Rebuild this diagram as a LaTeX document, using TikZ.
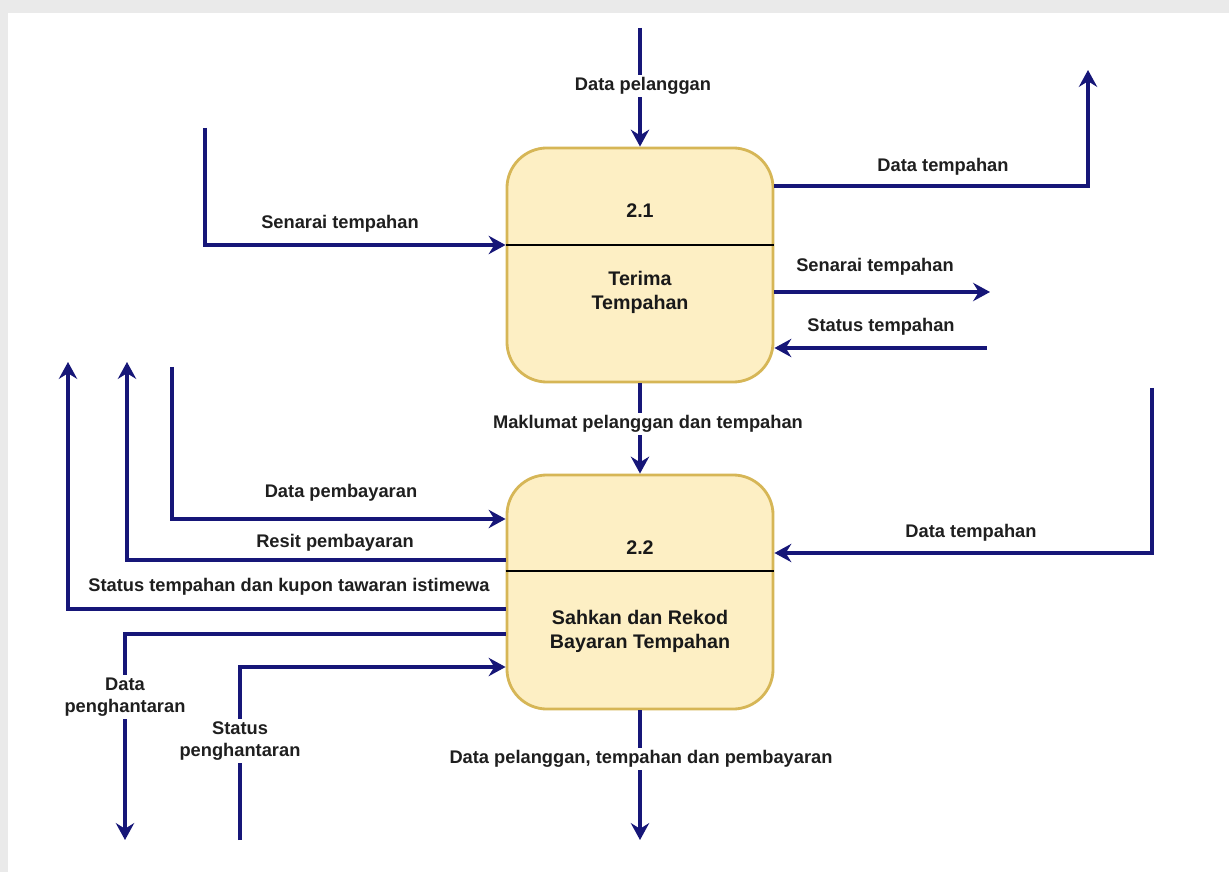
\documentclass[tikz,border=0pt]{standalone}
\usepackage{fontspec}
\setmainfont{Liberation Sans}
\usepackage{tikz}
\usetikzlibrary{arrows.meta}

\definecolor{flowblue}{RGB}{22,22,120}
\definecolor{procfill}{RGB}{253,239,196}
\definecolor{procline}{RGB}{214,182,86}
\definecolor{paper}{RGB}{234,234,234}

\begin{document}
\begin{tikzpicture}
            [x=0.025cm,y=-0.025cm,
             proc/.style={draw=procline,line width=2pt,fill=procfill,rounded corners=1cm,
                          minimum width=6.65cm,minimum height=5.85cm},
             flow/.style={draw=flowblue,line width=2.6pt,-{Stealth[length=12pt,width=13pt,inset=4pt]}},
             lbl/.style={font=\bfseries\fontsize{13}{15.5}\selectfont,text=black!88,align=center,inner sep=2pt},
             onlbl/.style={lbl,fill=white},
             ptitle/.style={font=\bfseries\fontsize{14}{17}\selectfont,text=black!90,align=center}]
            % page
            \fill[paper] (0,0) rectangle (1229,872);
            \fill[white] (8,13) rectangle (1229,872);
            \useasboundingbox (0,0) rectangle (1229,872);

            % processes
            \node[proc] (p21) at (640,265) {};
            \node[proc] (p22) at (640,592) {};
            \draw[line width=2pt] (p21.west |- 0,245) -- (p21.east |- 0,245);
            \draw[line width=2pt] (p22.west |- 0,571) -- (p22.east |- 0,571);
            \node[ptitle] (n21) at (640,211) {2.1};
            \node[ptitle] (t21) at (640,292) {Terima\\Tempahan};
            \node[ptitle] (n22) at (640,548) {2.2};
            \node[ptitle] (t22) at (640,631) {Sahkan dan Rekod\\Bayaran Tempahan};

            % free ends
            \coordinate (pelin) at (640,28);
            \coordinate (senin) at (205,128);
            \coordinate (tmpout) at (1088,70);
            \coordinate (senout) at (990,292);
            \coordinate (stsin) at (987,348);
            \coordinate (bayin) at (172,367);
            \coordinate (resout) at (127,362);
            \coordinate (kupout) at (68,362);
            \coordinate (hntout) at (125,840);
            \coordinate (shin) at (240,840);
            \coordinate (tmpin) at (1152,388);
            \coordinate (allout) at (640,840);

            % flows of 2.1
            \draw[flow] (pelin) -- (p21);
            \node[onlbl] (l1) at (643,86) {Data pelanggan};
            \draw[flow] (senin) |- (p21.west |- 0,245);
            \node[lbl] (l2) at (340,224) {Senarai tempahan};
            \draw[flow] (p21.east |- 0,186) -| (tmpout);
            \node[lbl] (l3) at (943,167) {Data tempahan};
            \draw[flow] (p21.east |- 0,292) -- (senout);
            \node[lbl] (l4) at (875,267) {Senarai tempahan};
            \draw[flow] (stsin) -- (p21.east |- 0,348);
            \node[lbl] (l5) at (881,327) {Status tempahan};
            \draw[flow] (p21) -- (p22);
            \node[onlbl] (l6) at (648,424) {Maklumat pelanggan dan tempahan};

            % flows of 2.2
            \draw[flow] (bayin) |- (p22.west |- 0,519);
            \node[lbl] (l7) at (341,493) {Data pembayaran};
            \draw[flow] (p22.west |- 0,560) -| (resout);
            \node[lbl] (l8) at (335,543) {Resit pembayaran};
            \draw[flow] (p22.west |- 0,609) -| (kupout);
            \node[lbl] (l9) at (289,587) {Status tempahan dan kupon tawaran istimewa};
            \draw[flow] (p22.west |- 0,634) -| (hntout);
            \node[onlbl] (l10) at (125,697) {Data\\penghantaran};
            \draw[flow] (shin) |- (p22.west |- 0,667);
            \node[onlbl] (l11) at (240,741) {Status\\penghantaran};
            \draw[flow] (tmpin) |- (p22.east |- 0,553);
            \node[lbl] (l12) at (971,533) {Data tempahan};
            \draw[flow] (p22) -- (allout);
            \node[onlbl] (l13) at (641,759) {Data pelanggan, tempahan dan pembayaran};

        \end{tikzpicture}
\end{document}
